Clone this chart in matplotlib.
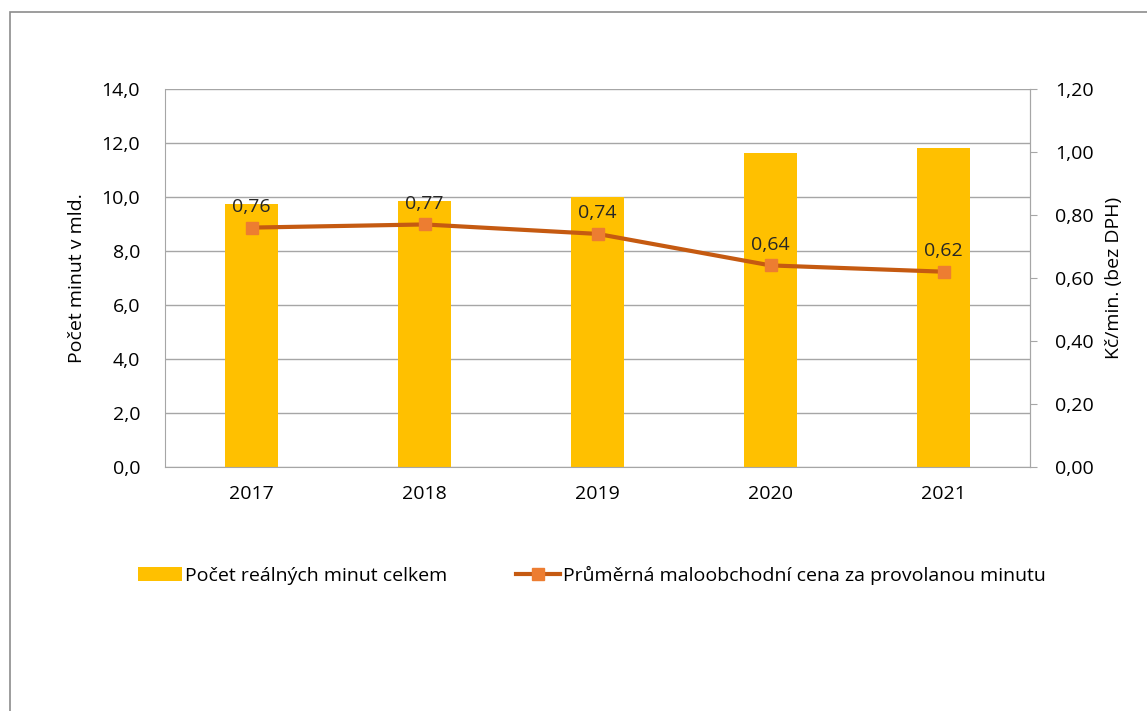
import numpy as np
import matplotlib.pyplot as plt
from matplotlib.patches import Rectangle

plt.rcParams['font.family'] = ['Open Sans', 'DejaVu Sans']

roky = ['2017', '2018', '2019', '2020', '2021']
minuty = [9.74, 9.86, 9.99, 11.64, 11.80]
cena = [0.76, 0.77, 0.74, 0.64, 0.62]
cena_popisky = ['0,76', '0,77', '0,74', '0,64', '0,62']

seda = '#A6A6A6'
fs = 14

fig = plt.figure(figsize=(11.47, 7.11), dpi=100)
fig.patches.append(Rectangle((10 / 1147, -0.05), 1.2, 1 - 12 / 711 + 0.05,
                             transform=fig.transFigure, fill=False,
                             edgecolor='#8C8C8C', linewidth=1.2))

ax = fig.add_axes([165 / 1147, 1 - 467 / 711, 865 / 1147, 378 / 711])
x = np.arange(len(roky))
b = ax.bar(x, minuty, width=0.31, color='#FFC000', zorder=2,
           label='Počet reálných minut celkem')
ax.set_xlim(-0.5, 4.5)
ax.set_ylim(0, 14)
ax.set_yticks(np.arange(0, 14.1, 2))
ax.set_yticklabels([f'{v:.1f}'.replace('.', ',') for v in np.arange(0, 14.1, 2)])
ax.set_xticks(x)
ax.set_xticklabels(roky)
ax.grid(axis='y', color=seda, linewidth=1, zorder=0)
ax.tick_params(axis='y', length=0, pad=18, labelsize=fs)
ax.tick_params(axis='x', length=0, pad=13, labelsize=fs)
ax.spines['top'].set_visible(False)
for s in ['left', 'bottom', 'right']:
    ax.spines[s].set_color(seda)
ax.set_ylabel('Počet minut v mld.', fontsize=fs, labelpad=11)

ax2 = ax.twinx()
ln, = ax2.plot(x, cena, color='#C55A11', linewidth=3, marker='s',
               markersize=9, markerfacecolor='#ED7D31', markeredgecolor='#ED7D31',
               zorder=3, label='Průměrná maloobchodní cena za provolanou minutu')
ax2.set_ylim(0, 1.2)
ax2.set_yticks(np.arange(0, 1.21, 0.2))
ax2.set_yticklabels([f'{v:.2f}'.replace('.', ',') for v in np.arange(0, 1.21, 0.2)])
ax2.tick_params(axis='y', length=5, color=seda, pad=13, labelsize=fs)
for s in ['top', 'left', 'bottom']:
    ax2.spines[s].set_visible(False)
ax2.spines['right'].set_color(seda)
ax2.set_ylabel('Kč/min. (bez DPH)', fontsize=fs, labelpad=8)

for xi, yi, t in zip(x, cena, cena_popisky):
    ax2.annotate(t, (xi, yi), xytext=(0, 15), textcoords='offset points',
                 ha='center', va='center', fontsize=fs, color='#262626')

fig.legend([b, ln], [b.get_label(), ln.get_label()], loc='center',
           bbox_to_anchor=(0.516, 1 - 575 / 711), ncol=2, frameon=False,
           fontsize=fs, handlelength=2.3, handletextpad=0.15, columnspacing=3.5)

fig.savefig('out.png', dpi=100)
